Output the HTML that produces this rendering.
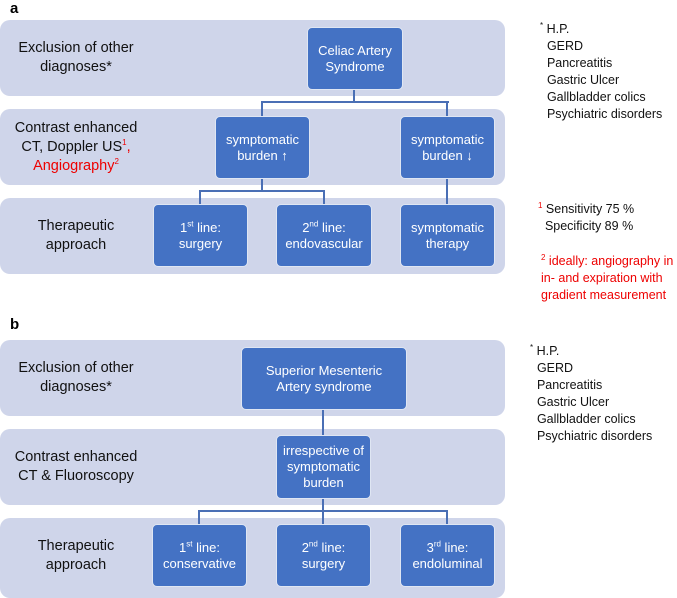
<!DOCTYPE html>
<html><head><meta charset="utf-8"><style>
body{margin:0;width:677px;height:594px;background:#fff;position:relative;font-family:"Liberation Sans",sans-serif;overflow:hidden}
.band{position:absolute;left:0;width:505px;height:76px;background:#cfd5ea;border-radius:10px}
.box{position:absolute;background:#4472c4;border:1px solid #dfe6f3;border-radius:5px;color:#fff;font-size:13px;line-height:16px;display:flex;align-items:center;justify-content:center;text-align:center;box-sizing:border-box}
.lab{position:absolute;left:0;width:152px;text-align:center;font-size:14.5px;line-height:19px;color:#111;display:flex;align-items:center;justify-content:center;height:76px}
.h{position:absolute;height:2px;background:#4a6fb5}
.v{position:absolute;width:2px;background:#4a6fb5}
.pl{position:absolute;font-weight:bold;font-size:15px}
.r{position:absolute;font-size:12.5px;line-height:17px;color:#111;white-space:nowrap}
.red{color:#e00}
sup{font-size:8px;line-height:0;vertical-align:super}
</style></head><body>
<div class="pl" style="left:10px;top:0px">a</div>
<div class="band" style="top:20px"></div>
<div class="band" style="top:109px"></div>
<div class="band" style="top:198px"></div>
<div class="lab" style="top:20px"><span>Exclusion of other<br>diagnoses*</span></div>
<div class="lab" style="top:109px"><span>Contrast enhanced<br>CT, Doppler US<sup class="red">1</sup><span class="red">,</span><br><span class="red">Angiography<sup>2</sup></span></span></div>
<div class="lab" style="top:198px"><span>Therapeutic<br>approach</span></div>
<div class="v" style="left:353px;top:89px;height:14px"></div>
<div class="h" style="left:261px;top:101px;width:188px"></div>
<div class="v" style="left:261px;top:101px;height:15px"></div>
<div class="v" style="left:446px;top:101px;height:15px"></div>
<div class="v" style="left:261px;top:178px;height:14px"></div>
<div class="h" style="left:199px;top:190px;width:126px"></div>
<div class="v" style="left:199px;top:190px;height:14px"></div>
<div class="v" style="left:323px;top:190px;height:14px"></div>
<div class="v" style="left:446px;top:178px;height:26px"></div>
<div class="box" style="left:307px;top:27px;width:96px;height:63px"><span>Celiac Artery<br>Syndrome</span></div>
<div class="box" style="left:215px;top:116px;width:95px;height:63px"><span>symptomatic<br>burden ↑</span></div>
<div class="box" style="left:400px;top:116px;width:95px;height:63px"><span>symptomatic<br>burden ↓</span></div>
<div class="box" style="left:153px;top:204px;width:95px;height:63px"><span>1<sup>st</sup> line:<br>surgery</span></div>
<div class="box" style="left:276px;top:204px;width:96px;height:63px"><span>2<sup>nd</sup> line:<br>endovascular</span></div>
<div class="box" style="left:400px;top:204px;width:95px;height:63px"><span>symptomatic<br>therapy</span></div>
<div class="r" style="left:540px;top:21px"><sup>*</sup> H.P.<br>&nbsp; GERD<br>&nbsp; Pancreatitis<br>&nbsp; Gastric Ulcer<br>&nbsp; Gallbladder colics<br>&nbsp; Psychiatric disorders</div>
<div class="r" style="left:538px;top:201px"><sup class="red">1</sup> Sensitivity 75 %<br>&nbsp;&nbsp;Specificity 89 %</div>
<div class="r red" style="left:541px;top:253px"><sup>2</sup> ideally: angiography in<br>in- and expiration with<br>gradient measurement</div>

<div class="pl" style="left:10px;top:316px">b</div>
<div class="band" style="top:340px"></div>
<div class="band" style="top:429px"></div>
<div class="band" style="top:518px;height:80px"></div>
<div class="lab" style="top:340px"><span>Exclusion of other<br>diagnoses*</span></div>
<div class="lab" style="top:429px"><span>Contrast enhanced<br>CT &amp; Fluoroscopy</span></div>
<div class="lab" style="top:518px"><span>Therapeutic<br>approach</span></div>
<div class="v" style="left:322px;top:409px;height:27px"></div>
<div class="v" style="left:322px;top:498px;height:27px"></div>
<div class="h" style="left:198px;top:510px;width:250px"></div>
<div class="v" style="left:198px;top:510px;height:15px"></div>
<div class="v" style="left:446px;top:510px;height:15px"></div>
<div class="box" style="left:241px;top:347px;width:166px;height:63px"><span>Superior Mesenteric<br>Artery syndrome</span></div>
<div class="box" style="left:276px;top:435px;width:95px;height:64px"><span>irrespective of<br>symptomatic<br>burden</span></div>
<div class="box" style="left:152px;top:524px;width:95px;height:63px"><span>1<sup>st</sup> line:<br>conservative</span></div>
<div class="box" style="left:276px;top:524px;width:95px;height:63px"><span>2<sup>nd</sup> line:<br>surgery</span></div>
<div class="box" style="left:400px;top:524px;width:95px;height:63px"><span>3<sup>rd</sup> line:<br>endoluminal</span></div>
<div class="r" style="left:530px;top:343px"><sup>*</sup> H.P.<br>&nbsp; GERD<br>&nbsp; Pancreatitis<br>&nbsp; Gastric Ulcer<br>&nbsp; Gallbladder colics<br>&nbsp; Psychiatric disorders</div>
</body></html>
